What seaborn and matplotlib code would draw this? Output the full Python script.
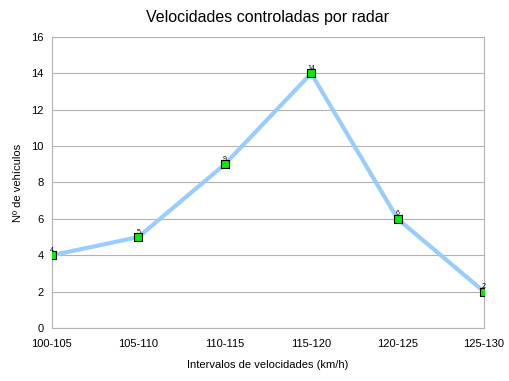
import matplotlib
matplotlib.use("Agg")
import matplotlib.pyplot as plt
import seaborn as sns
import pandas as pd

#---------------data
intervals = ["100-105", "105-110", "110-115", "115-120", "120-125", "125-130"]
vehicles = [4, 5, 9, 14, 6, 2]

df = pd.DataFrame({"intervalo": intervals, "vehiculos": vehicles})

sns.set_style("white")
plt.rcParams["font.family"] = ["Liberation Sans", "DejaVu Sans"]
plt.rcParams["text.color"] = "black"
plt.rcParams["axes.labelcolor"] = "black"
plt.rcParams["xtick.labelcolor"] = "black"
plt.rcParams["ytick.labelcolor"] = "black"

fig = plt.figure(figsize=(5.09, 3.81), dpi=100)
ax = fig.add_axes([0.102, 0.139, 0.849, 0.764])

sns.lineplot(data=df, x="intervalo", y="vehiculos", ax=ax, color="#99ccff",
             linewidth=3, sort=False, zorder=2)
sns.scatterplot(data=df, x="intervalo", y="vehiculos", ax=ax, marker="s",
                s=30, color="#00ee00", edgecolor="black", linewidth=0.8, zorder=3)

#----------small data labels above the points
for i, v in enumerate(vehicles):
    ax.annotate(str(v), (i, v), xytext=(0, 1), textcoords="offset points",
                ha="center", va="bottom", fontsize=5)

ax.set_xlim(0, len(intervals) - 1)
ax.set_ylim(0, 16)
ax.set_yticks(range(0, 17, 2))
ax.yaxis.grid(True, color="#b3b3b3", linewidth=0.8)
ax.set_axisbelow(True)
for s in ax.spines.values():
    s.set_color("#b3b3b3")
    s.set_linewidth(0.8)
ax.tick_params(axis="both", length=4, color="#b3b3b3", labelsize=8, direction="out",
               pad=2, labelcolor="black")
ax.tick_params(axis="x", length=6)

ax.set_title("Velocidades controladas por radar", fontsize=11.5, pad=11, color="black")
ax.set_xlabel("Intervalos de velocidades (km/h)", fontsize=8, labelpad=8)
ax.set_ylabel("Nº de vehículos", fontsize=8, labelpad=6)

fig.savefig("out.png", dpi=100)
